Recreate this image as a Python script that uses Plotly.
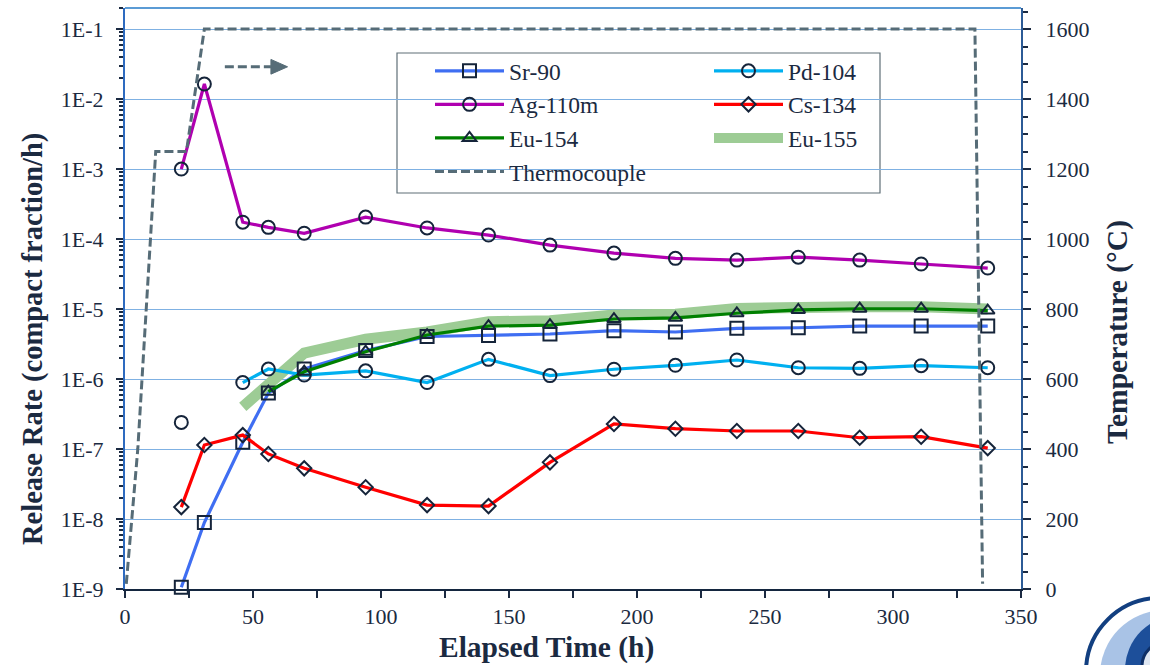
import math
import plotly.graph_objects as go

# Elapsed heating time (h) at each sample
hours = [22, 31, 46, 56, 70, 94, 118, 142, 166, 191, 215, 239, 263, 287, 311, 337]

# Release rates (compact fraction per hour)
sr90 = [1.06e-9, 8.9e-9, 1.25e-7, 6.3e-7, 1.39e-6, 2.55e-6, 4.05e-6, 4.2e-6,
        4.4e-6, 4.9e-6, 4.7e-6, 5.3e-6, 5.4e-6, 5.7e-6, 5.7e-6, 5.7e-6]
pd104 = [2.4e-7, None, 8.9e-7, 1.39e-6, 1.14e-6, 1.31e-6, 8.9e-7, 1.91e-6,
         1.12e-6, 1.38e-6, 1.57e-6, 1.87e-6, 1.45e-6, 1.42e-6, 1.55e-6, 1.45e-6]
ag110m = [1.0e-3, 1.64e-2, 1.74e-4, 1.47e-4, 1.21e-4, 2.06e-4, 1.44e-4, 1.14e-4,
          8.2e-5, 6.3e-5, 5.3e-5, 5.0e-5, 5.5e-5, 5.0e-5, 4.4e-5, 3.85e-5]
cs134 = [1.48e-8, 1.14e-7, 1.58e-7, 8.5e-8, 5.3e-8, 2.84e-8, 1.58e-8, 1.53e-8,
         6.45e-8, 2.28e-7, 1.95e-7, 1.81e-7, 1.81e-7, 1.45e-7, 1.5e-7, 1.03e-7]
eu154 = [None, None, None, 6.6e-7, 1.27e-6, 2.46e-6, 4.25e-6, 5.7e-6,
         5.9e-6, 7.2e-6, 7.5e-6, 8.7e-6, 9.7e-6, 1.01e-5, 1.01e-5, 9.5e-6]
eu155 = [None, None, 4.0e-7, 8.7e-7, 2.35e-6, 3.7e-6, 4.7e-6, 6.6e-6,
         6.8e-6, 8.2e-6, 8.4e-6, 1.02e-5, 1.08e-5, 1.08e-5, 1.08e-5, 1.0e-5]

# Furnace thermocouple history (h, °C)
tc_hours = [0.5, 5, 12, 24, 31, 332, 335]
tc_temp = [15, 400, 1250, 1250, 1600, 1600, 15]

# Axis tick labels
rate_ticks = [1e-9, 1e-8, 1e-7, 1e-6, 1e-5, 1e-4, 1e-3, 1e-2, 1e-1]
rate_labels = ["1E-9", "1E-8", "1E-7", "1E-6", "1E-5", "1E-4", "1E-3", "1E-2", "1E-1"]
time_ticks = [0, 50, 100, 150, 200, 250, 300, 350]
temp_ticks = [0, 200, 400, 600, 800, 1000, 1200, 1400, 1600]

FONT = "'Liberation Serif', 'Times New Roman', 'DejaVu Serif', serif"
INK = "#1b2a41"
MK = "#15243a"

fig = go.Figure()


def series(name, y, color, symbol, legend, rank, size=12):
    fig.add_trace(go.Scatter(
        x=hours, y=y, name=name, mode="lines+markers",
        line=dict(color=color, width=3.2),
        marker=dict(symbol=symbol, size=size, color=MK, line=dict(color=MK, width=2)),
        connectgaps=False, cliponaxis=False,
        legend=legend, legendrank=rank, legendgroup=name,
    ))


# Wide translucent band drawn first so it sits behind the other series
fig.add_trace(go.Scatter(
    x=hours, y=eu155, name="Eu-155", mode="lines",
    line=dict(color="#9dcc95", width=11),
    connectgaps=False, legend="legend2", legendrank=3, legendgroup="Eu-155",
))
series("Sr-90", sr90, "#3f6ef2", "square-open", "legend", 1, 13)
series("Pd-104", pd104, "#00b0f0", "circle-open", "legend2", 1, 13)
series("Ag-110m", ag110m, "#b000b0", "circle-open", "legend", 2, 13)
series("Cs-134", cs134, "#ff0000", "diamond-open", "legend2", 2, 11)
series("Eu-154", eu154, "#008000", "triangle-up-open", "legend", 3, 12)

fig.add_trace(go.Scatter(
    x=tc_hours, y=tc_temp, name="Thermocouple", mode="lines", yaxis="y2",
    line=dict(color="#566c77", width=3, dash="9px,4px"),
    legend="legend", legendrank=4, legendgroup="Thermocouple",
))

# Minor log ticks 2..9 per decade
minor_rate = [k * 10.0 ** e for e in range(-9, 0) for k in range(2, 10)] + [0.2]


def px_x(p):
    return (p - 125) / 896


def px_y(p):
    return 1 - (p - 8) / 581


legend_common = dict(
    xanchor="left", yanchor="top", bgcolor="rgba(0,0,0,0)", borderwidth=0,
    font=dict(family=FONT, size=23.5, color=INK), itemwidth=69,
    tracegroupgap=8, traceorder="normal",
)

shapes = [
    # legend frame
    dict(type="rect", xref="paper", yref="paper", x0=px_x(397), x1=px_x(880),
         y0=px_y(193), y1=px_y(53), line=dict(color="#5f6f77", width=1.2),
         fillcolor="white", layer="between"),
    # light top border of the plot area
    dict(type="line", xref="paper", yref="paper", x0=0, x1=1, y0=1, y1=1,
         line=dict(color="#5b9bd5", width=2)),
    # dashed arrow pointing to the temperature axis
    dict(type="line", xref="x", yref="y2", x0=39, x1=57, y0=1492, y1=1492,
         line=dict(color="#566c77", width=3, dash="9px,4px")),
    dict(type="path", xref="x", yref="y2",
         path="M 57 1513 L 63.5 1492 L 57 1471 Z",
         fillcolor="#566c77", line=dict(color="#566c77", width=1)),
    # corner emblem
    dict(type="circle", xref="paper", yref="paper",
         x0=px_x(1086), x1=px_x(1234), y0=px_y(746), y1=px_y(598),
         line=dict(color="#123f80", width=4), fillcolor="white"),
    dict(type="circle", xref="paper", yref="paper",
         x0=px_x(1100), x1=px_x(1230), y0=px_y(740), y1=px_y(610),
         line=dict(width=0), fillcolor="#a9c3e6"),
    dict(type="circle", xref="paper", yref="paper",
         x0=px_x(1125), x1=px_x(1235), y0=px_y(725), y1=px_y(615),
         line=dict(width=0), fillcolor="#1d4f9a"),
    dict(type="circle", xref="paper", yref="paper",
         x0=px_x(1142), x1=px_x(1190), y0=px_y(690), y1=px_y(642),
         line=dict(color="#0e2f66", width=3), fillcolor="#dfe7f2"),
]

annotations = [
    dict(text="<b>Release Rate (compact fraction/h)</b>", xref="paper", yref="paper",
         x=px_x(33), y=px_y(339), textangle=-90, showarrow=False,
         font=dict(family=FONT, size=28.5, color=INK), xanchor="center", yanchor="middle"),
    dict(text="<b>Temperature (°C)</b>", xref="paper", yref="paper",
         x=px_x(1117), y=px_y(332), textangle=-90, showarrow=False,
         font=dict(family=FONT, size=29.5, color=INK), xanchor="center", yanchor="middle"),
    dict(text="<b>Elapsed Time (h)</b>", xref="paper", yref="paper",
         x=px_x(546), y=px_y(648), showarrow=False,
         font=dict(family=FONT, size=29.5, color=INK), xanchor="center", yanchor="middle"),
]

fig.update_layout(
    width=1150, height=665,
    margin=dict(l=125, r=129, t=8, b=76),
    paper_bgcolor="white", plot_bgcolor="white",
    showlegend=True,
    legend=dict(x=px_x(430), y=px_y(49), **legend_common),
    legend2=dict(x=px_x(709), y=px_y(49), **legend_common),
    xaxis=dict(
        range=[0, 350], tickvals=time_ticks, ticks="outside", ticklen=7,
        tickcolor=INK, tickwidth=1.5, showgrid=False, zeroline=False,
        showline=True, linecolor="#14263f", linewidth=2,
        tickfont=dict(family=FONT, size=22, color=INK),
        minor=dict(dtick=25, ticks="outside", ticklen=7, tickcolor=INK, showgrid=False),
    ),
    yaxis=dict(
        type="log", range=[-9, math.log10(0.2)],
        tickvals=rate_ticks, ticktext=rate_labels,
        ticks="outside", ticklen=7, tickcolor=INK, tickwidth=1.5,
        showgrid=True, gridcolor="#7fb1e3", gridwidth=1, zeroline=False,
        showline=True, linecolor="#2e6bc0", linewidth=2,
        tickfont=dict(family=FONT, size=22, color=INK), ticklabelstandoff=8,
        minor=dict(tickvals=minor_rate, ticks="outside", ticklen=4,
                   tickcolor=INK, showgrid=False),
    ),
    yaxis2=dict(
        overlaying="y", side="right", anchor="x", range=[0, 1660],
        tickvals=temp_ticks, ticks="outside", ticklen=8, tickcolor=INK, tickwidth=1.5,
        showgrid=False, zeroline=False, showline=True,
        linecolor="#2c5b96", linewidth=2,
        tickfont=dict(family=FONT, size=22, color=INK), ticklabelstandoff=10,
        minor=dict(dtick=50, ticks="outside", ticklen=5, tickcolor=INK, showgrid=False),
    ),
    shapes=shapes,
    annotations=annotations,
)

fig.write_html("out.html")
